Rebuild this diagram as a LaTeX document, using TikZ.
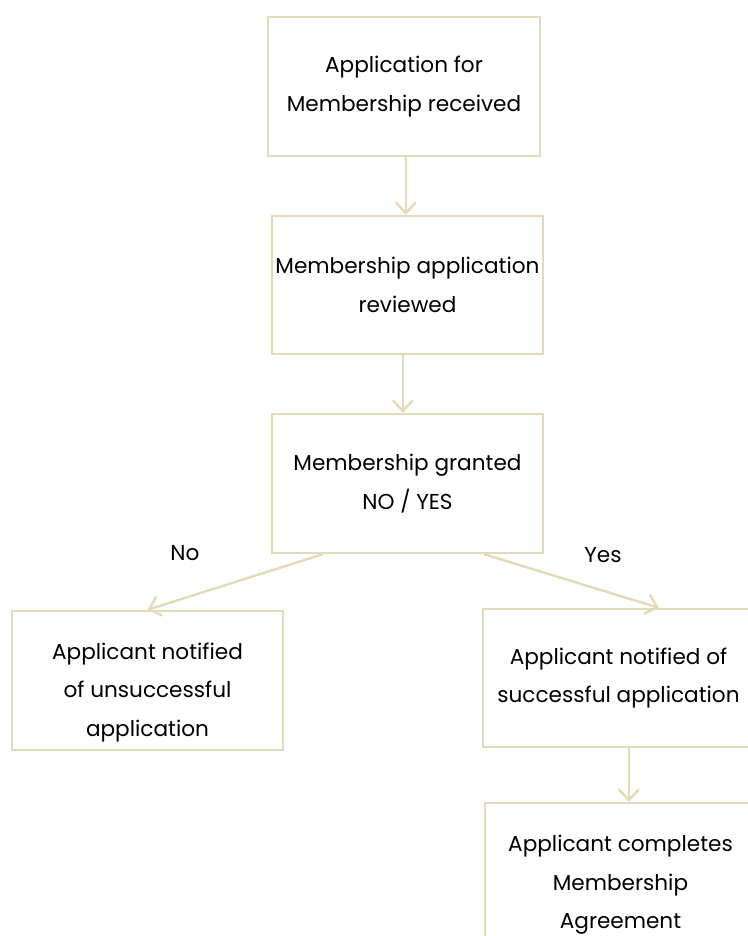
\documentclass[tikz,border=0pt]{standalone}
\usepackage{fontspec}
\setmainfont{Poppins}
\usetikzlibrary{arrows.meta,calc}

\definecolor{sand}{RGB}{227,218,186}
\tikzset{every picture/.style={line width=0.75pt}}
\tikzset{
  stepbox/.style={draw=sand, line width=1.8pt, rectangle, inner sep=0pt, minimum width=271*0.75pt, align=center, font=\fontsize{16.2pt}{29pt}\selectfont, text=black},
  steptext/.style={inner sep=0pt, align=center, font=\fontsize{16.2pt}{29pt}\selectfont, text=black},
  flowarr/.style={draw=sand, line width=1.8pt, -{Straight Barb[length=8pt,width=15pt,line width=1.8pt]}},
  answer/.style={inner sep=0pt, font=\fontsize{16.2pt}{19pt}\selectfont, text=black}
}

\begin{document}
\begin{tikzpicture}[x=0.75pt,y=0.75pt,yscale=-1,xscale=1]
\useasboundingbox (0,0) rectangle (748,936);

%Boxes
\node[stepbox, minimum width=272*0.75pt, minimum height=139*0.75pt] (received) at (404,86.5) {Application for\\Membership received};
\node[stepbox, minimum height=138*0.75pt] (reviewed) at (407.5,285) {Membership application\\reviewed};
\node[stepbox, minimum height=139*0.75pt] (granted) at (407.5,483.5) {Membership granted\\NO / YES};
\node[stepbox, minimum height=139*0.75pt] (unsucc) at (147.5,680.5) {};
\node[stepbox, minimum height=138*0.75pt] (succ) at (618.5,678) {Applicant notified of\\successful application};
\node[stepbox, minimum height=164*0.75pt] (agreement) at (620.5,885) {Applicant completes\\Membership\\Agreement};

% Text Node
\node[steptext] (unsucctext) at ($(unsucc.center)+(0,12)$) {Applicant notified\\of unsuccessful\\application};

% Answer labels
\node[answer] (no) at (185,553) {No};
\node[answer] (yes) at (603,555) {Yes};

% Connector ends
\coordinate (c1) at ($(received.south west)+(139,0)$);
\coordinate (c2) at ($(reviewed.south west)+(132,0)$);
\coordinate (c3) at ($(granted.south west)!0.19!(granted.south east)$);
\coordinate (c4) at ($(granted.south west)!0.78!(granted.south east)$);
\coordinate (c5) at ($(succ.north west)+(177,0)$);
\coordinate (c6) at ($(succ.south west)+(147,0)$);

%Arrows
\draw[flowarr] (c1) -- (c1 |- reviewed.north);
\draw[flowarr] (c2) -- (c2 |- granted.north);
\draw[flowarr] (c3) -- (unsucc.north);
\draw[flowarr] (c4) -- (c5);
\draw[flowarr] (c6) -- (c6 |- agreement.north);

\end{tikzpicture}
\end{document}
